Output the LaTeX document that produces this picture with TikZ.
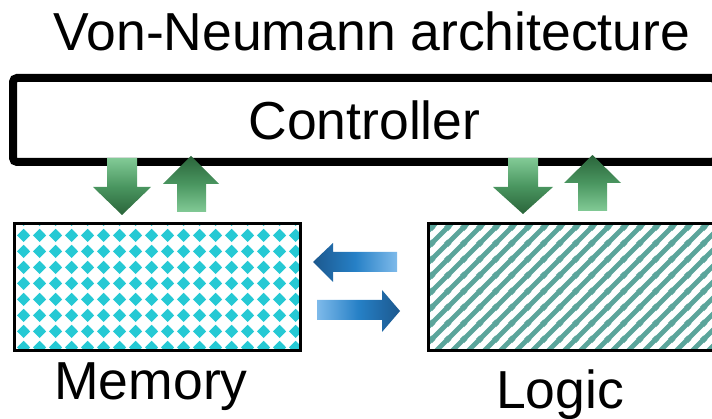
\documentclass[tikz,border=0pt]{standalone}
\usepackage{fontspec}
\setmainfont{Liberation Sans}
\usepackage{xcolor}
\usetikzlibrary{patterns, positioning, calc}
\definecolor{memcyan}{RGB}{38, 201, 212}
\definecolor{logicteal}{RGB}{91, 165, 155}
\definecolor{greenlight}{RGB}{130, 202, 150}
\definecolor{greenmid}{RGB}{74, 150, 96}
\definecolor{greendark}{RGB}{42, 100, 58}
\definecolor{bluelight}{RGB}{126, 186, 234}
\definecolor{bluemid}{RGB}{38, 128, 198}
\definecolor{bluedark}{RGB}{28, 88, 142}

\pgfdeclarepatternformonly{memdiamonds}{\pgfqpoint{0pt}{0pt}}{\pgfqpoint{16pt}{16pt}}{\pgfqpoint{16pt}{16pt}}{%
  \pgfpathmoveto{\pgfqpoint{8pt}{1pt}}%
  \pgfpathlineto{\pgfqpoint{15pt}{8pt}}%
  \pgfpathlineto{\pgfqpoint{8pt}{15pt}}%
  \pgfpathlineto{\pgfqpoint{1pt}{8pt}}%
  \pgfpathclose
  \pgfusepath{fill}}
\pgfdeclarepatternformonly{logicstripes}{\pgfqpoint{0pt}{0pt}}{\pgfqpoint{16pt}{16pt}}{\pgfqpoint{16pt}{16pt}}{%
  \pgfsetlinewidth{5pt}%
  \pgfpathmoveto{\pgfqpoint{-1pt}{-1pt}}\pgfpathlineto{\pgfqpoint{17pt}{17pt}}%
  \pgfpathmoveto{\pgfqpoint{-2pt}{14pt}}\pgfpathlineto{\pgfqpoint{2pt}{18pt}}%
  \pgfpathmoveto{\pgfqpoint{14pt}{-2pt}}\pgfpathlineto{\pgfqpoint{18pt}{2pt}}%
  \pgfusepath{stroke}}

\begin{document}
\begin{tikzpicture}[x=1pt, y=-1pt, every node/.style={font=\fontsize{53.5}{60}\selectfont}]
\clip (0,0) rectangle (712,419);
\tikzstyle{block}=[draw=black, line width=3pt, inner sep=0pt]
\tikzstyle{ctrlbox}=[draw=black, line width=8pt, rounded corners=4pt, inner sep=0pt]
\tikzstyle{lbl}=[inner sep=0pt, outer sep=0pt]
%%
\node (title) at (372,31) [lbl] {Von-Neumann architecture};
\node (ctrl) at (364.5,120) [ctrlbox, minimum width=703pt, minimum height=84pt] {Controller};

\node (mem) at (157,287.5) [block, pattern=memdiamonds, pattern color=memcyan, minimum width=286pt, minimum height=127pt] {};
\node (logic) at (574,287.5) [block, pattern=logicstripes, pattern color=logicteal, minimum width=291pt, minimum height=127pt] {};

\node [below=10pt of mem, xshift=-6pt, lbl](memlbl) {Memory};
\node [below=17.5pt of logic, xshift=-14pt, lbl](logiclbl) {Logic};

%% controller <-> memory
\shade[top color=greenlight, bottom color=greendark, middle color=greenmid] (107,158) -- (137,158) -- (137,187) -- (151,187) -- (122,215) -- (93,187) -- (107,187) -- cycle;
\shade[top color=greendark, bottom color=greenlight, middle color=greenmid] (177,212) -- (206,212) -- (206,184) -- (219,184) -- (191,156) -- (163,184) -- (177,184) -- cycle;
%% controller <-> logic
\shade[top color=greenlight, bottom color=greendark, middle color=greenmid] (508,158) -- (538,158) -- (538,187) -- (553,187) -- (523,214) -- (493,187) -- (508,187) -- cycle;
\shade[top color=greendark, bottom color=greenlight, middle color=greenmid] (578,211) -- (607,211) -- (607,183) -- (621,183) -- (592.5,155) -- (564,183) -- (578,183) -- cycle;
%% memory <-> logic
\shade[left color=bluedark, right color=bluelight, middle color=bluemid] (397,252) -- (333,252) -- (333,243) -- (313,262) -- (333,282) -- (333,272) -- (397,272) -- cycle;
\shade[left color=bluelight, right color=bluedark, middle color=bluemid] (317,300) -- (382,300) -- (382,290) -- (400,311) -- (382,332) -- (382,320) -- (317,320) -- cycle;
\end{tikzpicture}
\end{document}
